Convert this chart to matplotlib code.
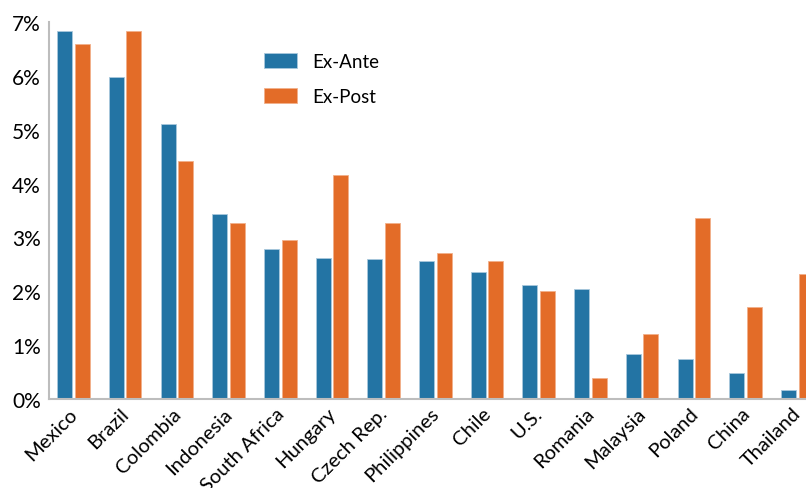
import matplotlib
matplotlib.use("Agg")
import matplotlib.pyplot as plt
import matplotlib.transforms as mtransforms
import numpy as np

countries = ["Mexico", "Brazil", "Colombia", "Indonesia", "South Africa", "Hungary",
             "Czech Rep.", "Philippines", "Chile", "U.S.", "Romania", "Malaysia",
             "Poland", "China", "Thailand"]
ex_ante = [6.84, 5.98, 5.11, 3.44, 2.78, 2.62, 2.60, 2.57, 2.36, 2.12, 2.05, 0.84, 0.75, 0.48, 0.16]
ex_post = [6.60, 6.84, 4.41, 3.26, 2.96, 4.16, 3.26, 2.71, 2.57, 2.00, 0.39, 1.20, 3.36, 1.70, 2.32]
yticks = [0, 1, 2, 3, 4, 5, 6, 7]

plt.rcParams['font.family'] = ['Lato', 'DejaVu Sans']

blue = "#2374a4"
orange = "#e36c28"

fig = plt.figure(figsize=(8.06, 4.89), dpi=100)
ax = fig.add_axes([49/806, 89/489, 1 - 49/806, (400-23)/489])

x = np.arange(len(countries))
w = 0.29
off = 0.17
ax.bar(x - off, ex_ante, width=w, color=blue, edgecolor="#a9c8dc", linewidth=0.6, label="Ex-Ante")
ax.bar(x + off, ex_post, width=w, color=orange, edgecolor="#f2b08a", linewidth=0.6, label="Ex-Post")

ax.set_xlim(-0.474, 14.17)
ax.set_ylim(0, 7)
ax.set_yticks(yticks)
ax.set_yticklabels([f"{t}%" for t in yticks], fontsize=15)
ax.set_xticks(x)
ax.set_xticklabels(countries, rotation=45, ha="right", rotation_mode="anchor", fontsize=14.5)
ax.tick_params(axis="both", length=0)
ax.tick_params(axis="x", pad=4)
ax.tick_params(axis="y", pad=6)

shift = mtransforms.ScaledTranslation(-5/100, 0, fig.dpi_scale_trans)
for lbl in ax.get_xticklabels():
    lbl.set_transform(lbl.get_transform() + shift)

for s in ["top", "right"]:
    ax.spines[s].set_visible(False)
for s in ["left", "bottom"]:
    ax.spines[s].set_color("#bdbdbd")
    ax.spines[s].set_linewidth(1.5)

leg = ax.legend(loc="upper left", frameon=False, fontsize=13.5, handlelength=1.75,
                handleheight=0.85, labelspacing=0.95, handletextpad=0.85,
                borderaxespad=0, borderpad=0)
leg.set_bbox_to_anchor((264/806, (489-54)/489), transform=fig.transFigure)

fig.savefig("out.png", dpi=100)
